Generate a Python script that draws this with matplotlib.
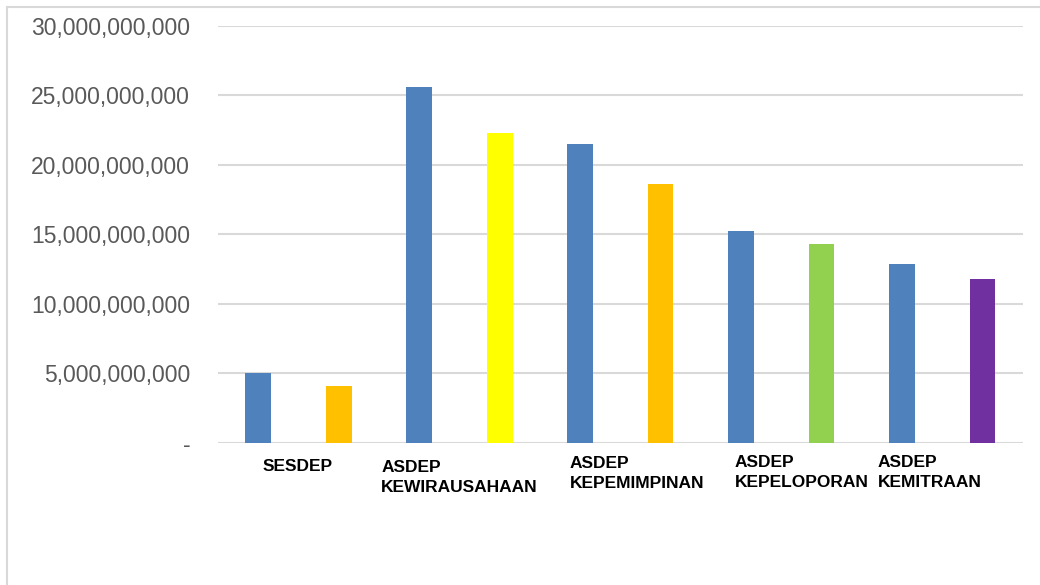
import matplotlib.pyplot as plt
from matplotlib.ticker import FuncFormatter
from matplotlib.lines import Line2D

# ---- data ----
categories = ["SESDEP", "ASDEP\nKEWIRAUSAHAAN", "ASDEP\nKEPEMIMPINAN",
              "ASDEP\nKEPELOPORAN", "ASDEP\nKEMITRAAN"]
pagu = [5.0e9, 25.6e9, 21.5e9, 15.25e9, 12.85e9]
realisasi = [4.07e9, 22.3e9, 18.6e9, 14.3e9, 11.8e9]
second_colors = ["#FFC000", "#FFFF00", "#FFC000", "#92D050", "#7030A0"]
# label left positions (in bar slots) and vertical offsets (px below axis)
label_dx = [0.05, 1.53, 3.87, 5.92, 7.70]
label_dy = [16, 17, 13, 12, 12]

fig = plt.figure(figsize=(10.4, 5.85), dpi=100)
ax = fig.add_axes([0.2096, 0.2432, 0.9834 - 0.2096, 0.9564 - 0.2432])

blue = "#4F81BD"
for i in range(len(categories)):
    ax.bar(2 * i, pagu[i], width=0.32, color=blue, zorder=3)
    ax.bar(2 * i + 1, realisasi[i], width=0.32, color=second_colors[i], zorder=3)

ax.set_xlim(-0.5, 2 * len(categories) - 0.5)
ax.set_ylim(0, 30e9)
ax.set_yticks([i * 5e9 for i in range(7)])
ax.yaxis.set_major_formatter(FuncFormatter(lambda v, p: "-" if v == 0 else f"{v:,.0f}"))
ax.tick_params(axis="y", length=0, pad=20, labelsize=16.5, labelcolor="#595959")
for lab in ax.get_yticklabels():
    lab.set_fontfamily("Liberation Sans")
ax.set_xticks([])
ax.grid(axis="y", color="#D9D9D9", linewidth=1.5, zorder=0)
for s in ax.spines.values():
    s.set_visible(False)

# category labels placed like the original
for i, cat in enumerate(categories):
    ax.annotate(cat, xy=(label_dx[i], 0), xycoords="data",
                xytext=(0, -label_dy[i]), textcoords="offset pixels",
                ha="left", va="top", fontsize=12.5, fontweight="bold",
                family=["Liberation Sans Narrow", "Liberation Sans"],
                color="black", linespacing=1.45)

# chart area border (top and left visible)
fig.add_artist(Line2D([7 / 1040, 1], [1 - 7 / 585, 1 - 7 / 585],
                      transform=fig.transFigure, color="#D9D9D9", linewidth=1.5))
fig.add_artist(Line2D([7 / 1040, 7 / 1040], [0, 1 - 7 / 585],
                      transform=fig.transFigure, color="#D9D9D9", linewidth=1.5))

fig.savefig("out.png", dpi=100)
